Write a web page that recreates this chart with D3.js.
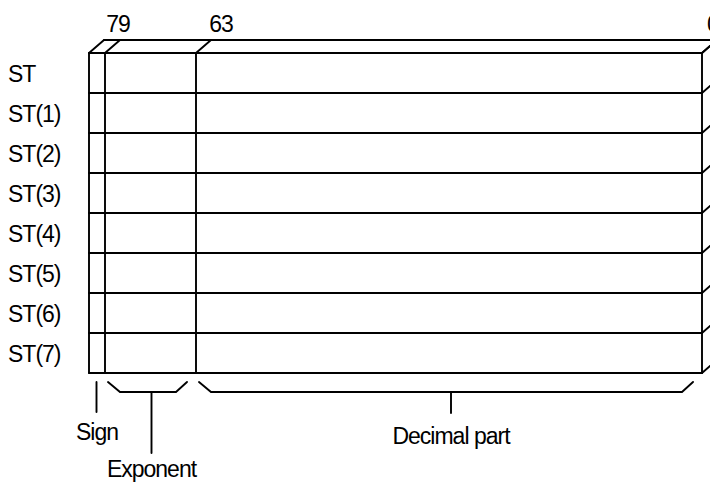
<!DOCTYPE html>
<html><head><meta charset="utf-8">
<script src="https://cdn.jsdelivr.net/npm/d3@7"></script>
<style>body{margin:0;background:#fff}svg{display:block}text{font-family:"Liberation Sans",Arial,sans-serif;fill:#000;font-size:23px;letter-spacing:-1px}</style>
</head><body>
<svg id="c" width="710" height="483"></svg>
<script>
const registers = ["ST","ST(1)","ST(2)","ST(3)","ST(4)","ST(5)","ST(6)","ST(7)"];
const bitLabels = [79, 63, 0];
const fieldBounds = [80, 79, 64, 0]; // sign | exponent | fraction
const fields = [
  {name:"Sign", from:80, to:79},
  {name:"Exponent", from:79, to:64},
  {name:"Decimal part", from:64, to:0}
];

(function(){
const svg = d3.select("#c");
const x = d3.scaleLinear().domain(fieldBounds).range([89, 105, 196, 702]);
const y = d3.scaleBand().domain(registers).range([53, 373]);
const dx = 15, dy = -13;
const y0 = y.range()[0], y1 = y.range()[1];
const g = svg.append("g").attr("stroke","#000").attr("stroke-width",1.9).attr("fill","none").attr("stroke-linecap","round");

const rowLines = registers.map(r => y(r)).concat([y1]);
rowLines.forEach(v => g.append("line").attr("x1",x(80)).attr("x2",x(0)).attr("y1",v).attr("y2",v));
fieldBounds.forEach(b => g.append("line").attr("x1",x(b)).attr("x2",x(b)).attr("y1",y0).attr("y2",y1));
fieldBounds.forEach(b => g.append("line").attr("x1",x(b)).attr("y1",y0).attr("x2",x(b)+dx).attr("y2",y0+dy));
g.append("line").attr("x1",x(80)+dx).attr("x2",x(0)+dx).attr("y1",y0+dy).attr("y2",y0+dy);
rowLines.forEach(v => g.append("line").attr("x1",x(0)).attr("y1",v).attr("x2",x(0)+dx).attr("y2",v+dy));
g.append("line").attr("x1",x(0)+dx).attr("x2",x(0)+dx).attr("y1",y0+dy).attr("y2",y1+dy);

svg.selectAll("text.row").data(registers).join("text")
  .attr("class","row").attr("x",8).attr("y",d => y(d)+y.bandwidth()/2+9)
  .text(d => d);

svg.selectAll("text.bit").data(bitLabels).join("text")
  .attr("class","bit").attr("text-anchor","middle")
  .attr("x",d => Math.min(x(d+0.5)+21, 713)).attr("y",32)
  .text(d => d);

const bTop = y1 + 9, bMid = y1 + 19;
const sign = fields[0];
const sx = (x(sign.from)+x(sign.to))/2;
g.append("line").attr("x1",sx-0.5).attr("x2",sx-0.5).attr("y1",bTop).attr("y2",bTop+30);
svg.append("text").attr("x",sx).attr("y",440).attr("text-anchor","middle").text(sign.name);

const stemLen = {"Exponent":61, "Decimal part":21};
const labelY = {"Exponent":477, "Decimal part":444};
fields.slice(1).forEach(f => {
  const xa = x(f.from)+3, xb = x(f.to)-9;
  const xm = (x(f.from)+x(f.to))/2 + (f.name==="Exponent"?1:2);
  g.append("path").attr("d",`M${xa},${bTop}L${xa+12},${bMid}L${xb-11},${bMid}L${xb},${bTop}`);
  g.append("line").attr("x1",xm).attr("x2",xm).attr("y1",bMid).attr("y2",bMid+stemLen[f.name]);
  svg.append("text").attr("x",xm).attr("y",labelY[f.name]).attr("text-anchor","middle").text(f.name);
});
})();
</script>
</body></html>
